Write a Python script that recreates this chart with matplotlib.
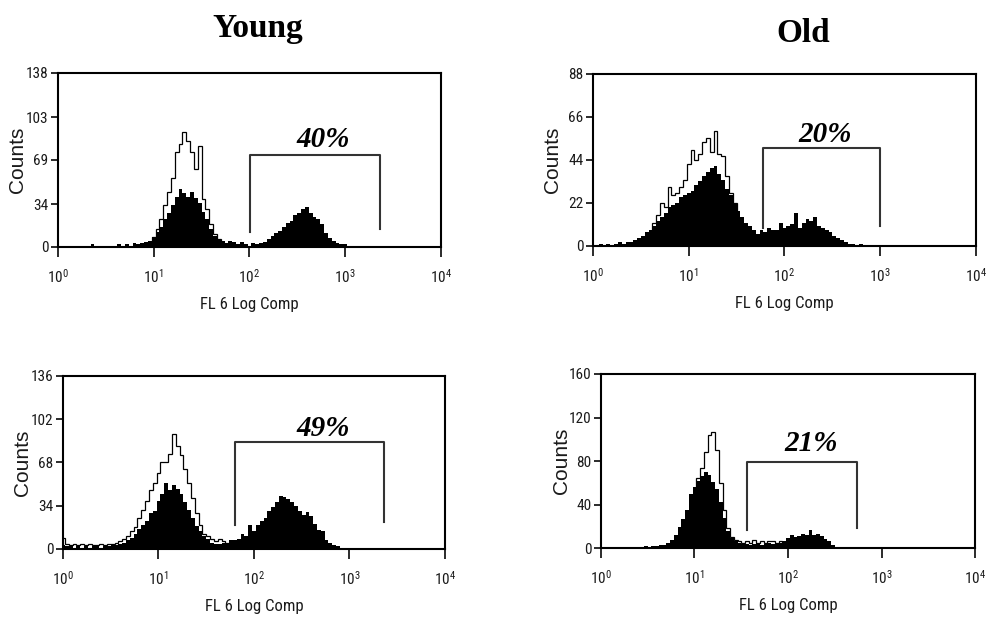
import numpy as np
import matplotlib
matplotlib.use('Agg')
import matplotlib.pyplot as plt
from matplotlib import font_manager as fm

# pick a condensed sans if one is installed, the original uses a narrow Arial
fonts = fm.fontManager.ttflist
names = {f.name for f in fonts}
NARROW = None
for n in ['Liberation Sans Narrow', 'Roboto Condensed', 'Open Sans Condensed', 'Arial Narrow']:
    if n in names:
        NARROW = n
        break
STRETCH = 'normal'
if NARROW is None:
    if any(f.name == 'DejaVu Sans' and f.stretch == 'condensed' for f in fonts):
        NARROW = 'DejaVu Sans'
        STRETCH = 'condensed'
    else:
        NARROW = 'Liberation Sans'

plt.rcParams['font.family'] = [NARROW, 'DejaVu Sans']
plt.rcParams['font.stretch'] = STRETCH
plt.rcParams['mathtext.fontset'] = 'custom'
plt.rcParams['mathtext.rm'] = NARROW
plt.rcParams['mathtext.it'] = NARROW + ':italic'
plt.rcParams['mathtext.bf'] = NARROW + ':bold'

TXT = '#1a1a1a'
NARROW_OK = NARROW != 'Liberation Sans'
TICK_SIZE = 11 if NARROW_OK else 9
XLAB_SIZE = 12 if NARROW_OK else 10

# histogram channel width, in decades of FL 6
STEP = 0.04

# ---- Young, top ----
yt_fill_start = 0.36
yt_fill = [2, 0, 0, 0, 0, 0, 0, 2, 1, 2, 1, 3, 2, 3, 4, 5,
           8, 12, 16, 22, 27, 33, 40, 46, 43, 40, 44, 39, 35, 28, 22, 14, 9, 6, 5, 3, 5, 4, 2, 4, 2,
           1, 3, 2, 3, 4, 6, 9, 11, 13, 16, 19, 21, 25, 27, 30, 32, 27, 24, 22, 18, 11, 7, 5, 3, 2,
           2, 1, 1, 1, 0, 0]
yt_open_start = 1.00
yt_open = [8, 14, 22, 33, 44, 55, 75, 82, 91, 84, 75, 62, 80, 38, 30, 18, 10, 6]
yt_yticks = [0, 34, 69, 103, 138]
yt_gate = (101, 2300, 73, 12, 14)
yt_pct = '40%'

# ---- Old, top ----
ot_fill_start = 0.08
ot_fill = [1, 0, 1, 0, 1, 2, 1, 2, 2, 3, 4, 5, 7, 8, 10, 13, 15, 17, 20, 21, 22, 25, 26,
           27, 28, 31, 33, 36, 38, 40, 41, 37, 34, 29, 26, 22, 18, 15, 12, 10, 8, 6, 8, 7, 9, 8, 8, 12,
           9, 10, 11, 17, 9, 12, 14, 13, 15, 10, 9, 8, 7, 5, 4, 3, 2, 1, 1, 0, 1, 0]
ot_open_start = 0.64
ot_open = [12, 16, 22, 20, 30, 26, 27, 30, 34, 42, 49, 44, 47, 53, 55, 48, 59, 47, 46, 36, 27, 22]
ot_yticks = [0, 22, 44, 66, 88]
ot_gate = (59, 1000, 50, 9, 10)
ot_pct = '20%'

# ---- Young, bottom ----
yb_fill_start = 0.00
yb_fill = [3, 2, 2, 1, 2, 1, 2, 1, 2, 2, 1, 2, 2, 3, 3, 4, 5, 7, 9, 12, 16, 19, 22, 28, 30,
           38, 43, 52, 46, 50, 47, 43, 37, 31, 24, 18, 14, 10, 8, 5, 4, 4, 5, 5, 7, 7, 8, 12, 10, 19,
           14, 19, 22, 24, 30, 33, 37, 42, 41, 39, 37, 34, 30, 27, 29, 26, 20, 15, 14, 7, 5, 3, 2, 1, 1,
           1, 0]
yb_open_start = 0.00
yb_open = [9, 4, 3, 4, 3, 4, 3, 4, 3, 3, 4, 3, 4, 4, 5, 6, 8, 10, 14, 17, 24, 31, 38, 46, 52,
           60, 68, 68, 75, 90, 81, 74, 63, 52, 40, 28, 19, 12, 10, 8, 6, 8, 6, 5]
yb_yticks = [0, 34, 68, 102, 136]
yb_gate = (64, 2300, 84, 19, 21)
yb_pct = '49%'

# ---- Old, bottom ----
ob_fill_start = 0.48
ob_fill = [2, 0, 2, 2, 3, 3, 5, 7, 12, 19, 27, 35, 50,
           56, 62, 66, 70, 67, 61, 54, 42, 28, 16, 9, 6, 5, 4, 4, 3, 4, 5, 3, 4, 5, 4, 5, 5, 6,
           9, 12, 10, 11, 13, 12, 17, 12, 13, 11, 8, 6, 3, 0]
ob_open_start = 1.04
ob_open = [64, 74, 88, 104, 107, 90, 60, 35, 18, 10, 7, 6, 5, 6, 5, 7, 5, 6, 5, 6, 6, 5, 6, 5, 5]
ob_yticks = [0, 40, 80, 120, 160]
ob_gate = (36.5, 546, 79, 16.5, 18)
ob_pct = '21%'

xtick_vals = [1, 10, 100, 1000, 10000]
xtick_labels = [r'$10^{0}$', r'$10^{1}$', r'$10^{2}$', r'$10^{3}$', r'$10^{4}$']


def edges(start, n):
    return 10 ** (start - STEP / 2 + STEP * np.arange(n + 1))


def draw_panel(ax, fill_start, fill, open_start, opn, yticks, gate, pct, pct_pos):
    e_open = edges(open_start, len(opn))
    ax.stairs(opn, e_open, fill=True, color='white', zorder=1)
    ax.stairs(opn, e_open, fill=False, color='black', lw=0.9, zorder=2)
    ax.stairs(fill, edges(fill_start, len(fill)), fill=True, color='black', zorder=3)

    lo, hi, gy, l_end, r_end = gate
    ax.plot([lo, lo, hi, hi], [l_end, gy, gy, r_end], color='#333333', lw=1.5, zorder=4)
    ax.text(pct_pos[0], pct_pos[1], pct, transform=ax.transAxes, ha='center', va='center',
            family='Liberation Serif', weight='bold', style='italic', fontsize=21, color='black')

    ax.set_xscale('log')
    ax.set_xlim(1, 10000)
    ax.set_ylim(0, yticks[-1])
    ax.set_xticks(xtick_vals)
    ax.set_xticklabels(xtick_labels)
    ax.minorticks_off()
    ax.set_yticks(yticks)
    ax.tick_params(axis='x', direction='out', length=7, width=1.3, pad=8, labelsize=TICK_SIZE, colors=TXT)
    ax.tick_params(axis='y', direction='out', length=5, width=1.3, pad=2, labelsize=TICK_SIZE, colors=TXT)
    for s in ax.spines.values():
        s.set_linewidth(1.5)
    ax.set_xlabel('FL 6 Log Comp', fontsize=XLAB_SIZE, color=TXT, labelpad=8)
    ax.set_ylabel('Counts', fontsize=15, family=['Liberation Sans', 'DejaVu Sans'],
                  fontstretch='normal', color=TXT)
    ax.yaxis.set_label_coords(-0.08, 0.5)


fig = plt.figure(figsize=(9.86, 6.19), dpi=100)

ax1 = fig.add_axes([0.0588, 0.601, 0.3884, 0.2811])
ax2 = fig.add_axes([0.6014, 0.6026, 0.3884, 0.2779])
ax3 = fig.add_axes([0.0639, 0.1131, 0.3874, 0.2795])
ax4 = fig.add_axes([0.6095, 0.1147, 0.3794, 0.2811])

draw_panel(ax1, yt_fill_start, yt_fill, yt_open_start, yt_open, yt_yticks, yt_gate, yt_pct, (0.692, 0.615))
draw_panel(ax2, ot_fill_start, ot_fill, ot_open_start, ot_open, ot_yticks, ot_gate, ot_pct, (0.606, 0.651))
draw_panel(ax3, yb_fill_start, yb_fill, yb_open_start, yb_open, yb_yticks, yb_gate, yb_pct, (0.681, 0.699))
draw_panel(ax4, ob_fill_start, ob_fill, ob_open_start, ob_open, ob_yticks, ob_gate, ob_pct, (0.562, 0.603))

fig.text(258 / 986, 1 - 29 / 619, 'Young', ha='center', va='center',
         family='Liberation Serif', weight='bold', fontsize=24, color='black')
fig.text(803 / 986, 1 - 33 / 619, 'Old', ha='center', va='center',
         family='Liberation Serif', weight='bold', fontsize=24, color='black')

fig.savefig('out.png', dpi=100)
